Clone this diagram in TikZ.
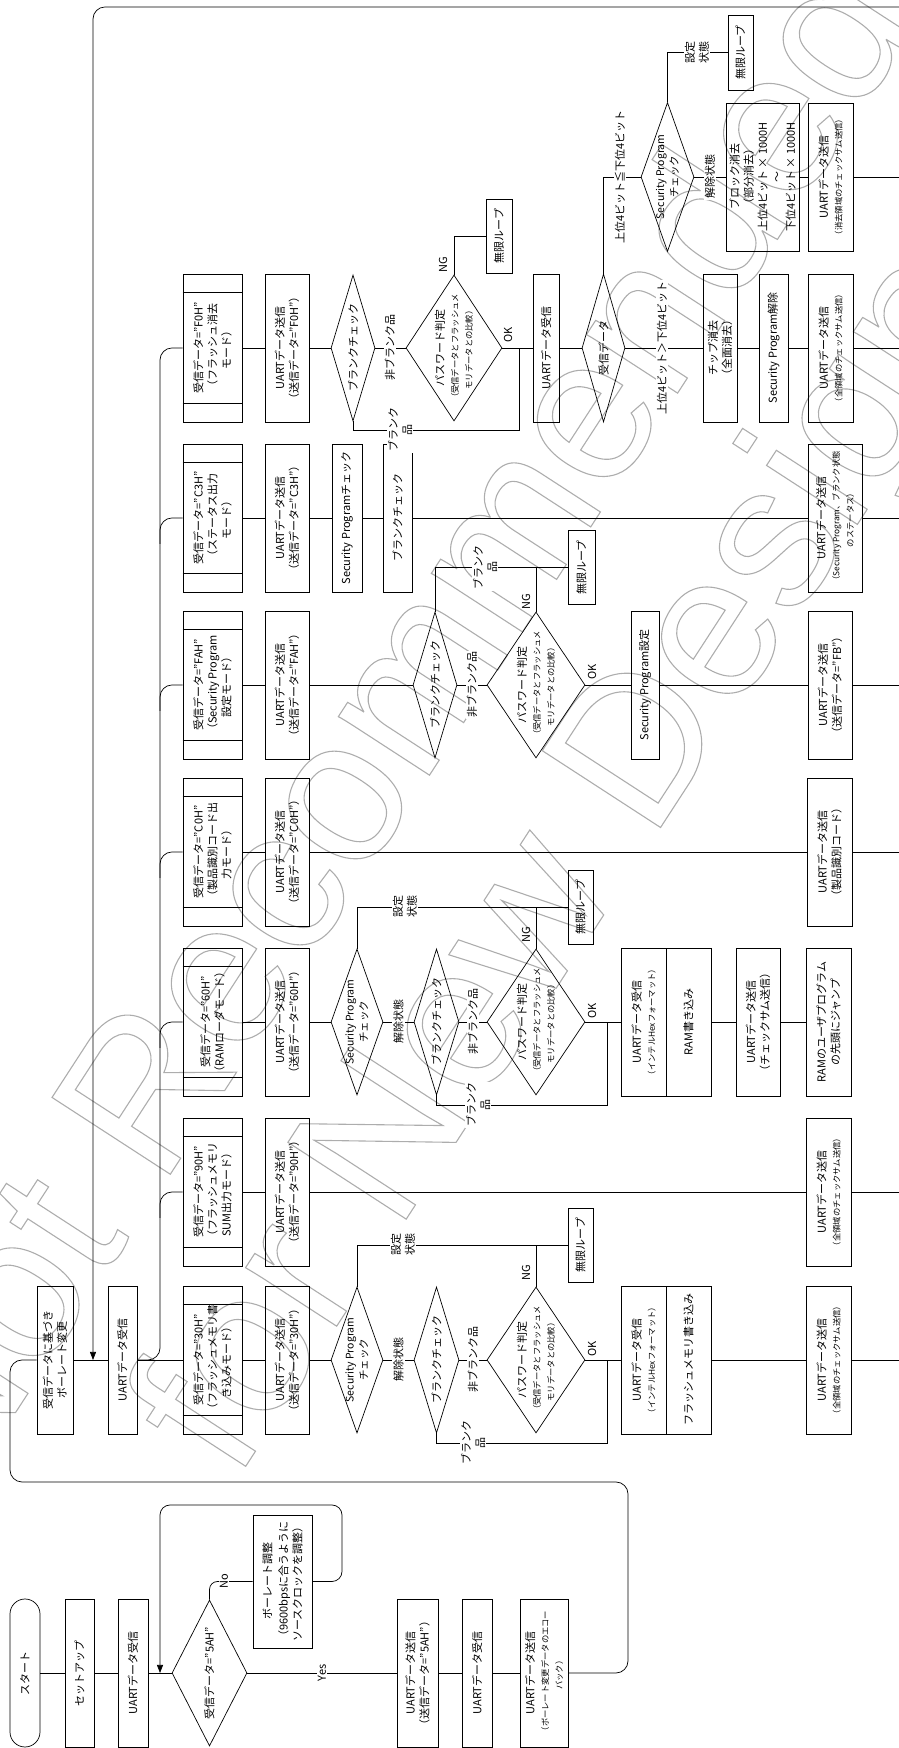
\documentclass[tikz,border=0pt]{standalone}
\usepackage{fontspec}
\setmainfont{Noto Sans CJK JP}
\newfontfamily\wmfont{Liberation Sans}
\usetikzlibrary{shapes.geometric,arrows.meta,calc}
\newcommand\fA{\fontsize{11}{14}\selectfont}
\newcommand\fB{\fontsize{8.3}{11}\selectfont}
\newcommand\fC{\fontsize{10.5}{13}\selectfont}
\newcommand\outlinetext[1]{\special{pdf:literal direct 1 Tr 1.1 w}#1\special{pdf:literal direct 0 Tr}}
\newcommand\innerlines[1]{%
  \draw ($(#1.north west)!18.5pt!(#1.north east)$) -- ($(#1.south west)!18.5pt!(#1.south east)$);
  \draw ($(#1.north east)!18.5pt!(#1.north west)$) -- ($(#1.south east)!18.5pt!(#1.south west)$);}
\tikzset{
  every node/.style={font=\fA},
  box/.style={draw, minimum width=148pt, align=center, inner sep=0pt},
  mode/.style={box, minimum height=59pt},
  snd/.style={box, minimum height=44pt},
  inf/.style={box, minimum width=74pt, minimum height=25pt},
  dia/.style={draw, diamond, inner sep=0pt, minimum width=146pt},
  dtxt/.style={align=center, inner sep=0pt},
  lbl/.style={fill=white, inner sep=1.2pt, align=center},
  tip/.style={-{Triangle[width=6pt,length=8pt]}},
  wm/.style={rotate=57, inner sep=0pt, text=black!32, font=\wmfont\fontsize{205}{205}\selectfont},
}
\begin{document}
\begin{tikzpicture}[x=1pt,y=1pt,line width=0.7pt]
\useasboundingbox (0,0) rectangle (899,1748);
% ---------------- watermark (outlined letters) ----------------
\node[wm] (wmA) at (376,1025) {\outlinetext{Not Recommended}};
\node[wm] (wmB) at (573,883) {\outlinetext{for New Design}};
\begin{scope}[rotate=90, transform shape]
% ---------------- column 0 : start ----------------
\node[box, rounded corners=15pt, minimum height=30pt] (start) at (75,-25) {スタート};
\node[box, minimum height=29pt] (setup) at (75,-79.5) {セットアップ};
\node[box, minimum height=30pt] (rx1) at (75,-133) {UARTデータ受信};
\node[dia, minimum height=75pt] (d5a) at (75,-209.5) {};
\node[dtxt] (d5at) at (d5a) {受信データ=”5AH”};
\node[box, minimum width=133pt, minimum height=59pt] (baud) at (166.5,-282.5) {ボーレート調整\\[2pt]（9600bpsに合うように\\ソースクロックを調整）};
\node[box, minimum height=41pt] (tx5a) at (75,-417.5) {UARTデータ送信\\（送信データ=”5AH”）};
\node[box, minimum height=30pt] (rx2) at (75,-477) {UARTデータ受信};
\node[box, minimum height=48pt] (echo) at (75,-544) {UARTデータ送信\\\fB（ボーレート変更データのエコー\\\fB バック）};
\node[box, minimum height=36pt] (bdc) at (388,-55) {受信データに基づき\\ボーレート変更};
\node[box, minimum height=29pt] (rx3) at (388,-122.5) {UARTデータ受信};
\coordinate (r5a) at (75,-160);
\coordinate (ret) at (388,-93);
\coordinate (retA) at (1741,-905);
\coordinate (bus0) at (388,-138);
% ---------------- column 30H ----------------
\node[mode] (m1) at (388,-212.5) {受信データ=”30H”\\（フラッシュメモリ書\\き込みモード）};
\node[snd] (s1) at (388,-287) {UARTデータ送信\\（送信データ=”30H”）};
\node[dia, minimum height=52pt] (sp1) at (388,-357) {};
\node[dtxt] (sp1t) at (sp1) {\fC Security Program\\\fC チェック};
\node[dia, minimum height=45pt] (bc1) at (388,-436.5) {};
\node[dtxt] (bc1t) at (bc1) {ブランクチェック};
\node[dia, minimum height=98pt] (pw1) at (388,-536) {};
\node[dtxt] (pw1t) at (pw1) {パスワード判定\\\fB（受信データとフラッシュメ\\\fB モリデータとの比較）};
\node[inf] (inf1) at (503,-580.5) {無限ループ};
\node[box, minimum height=45pt] (hx1a) at (388,-643.5) {UARTデータ受信\\\fB（インテルHexフォーマット）};
\node[box, minimum height=45pt] (hx1b) at (388,-688.5) {フラッシュメモリ書き込み};
\node[box, minimum height=45pt] (cs1) at (388,-828.5) {UARTデータ送信\\\fB（全領域のチェックサム送信）};
\coordinate (e1) at (388,-905);
\coordinate (j1) at (388,-607);
% ---------------- column 90H ----------------
\node[mode] (m2) at (556,-212.5) {受信データ=”90H”\\（フラッシュメモリ\\SUM出力モード）};
\node[snd] (s2) at (556,-287) {UARTデータ送信\\（送信データ=”90H”）};
\node[box, minimum height=45pt] (cs2) at (556,-828.5) {UARTデータ送信\\\fB（全領域のチェックサム送信）};
\coordinate (e2) at (556,-905);
% ---------------- column 60H ----------------
\node[mode] (m3) at (726,-212.5) {受信データ=”60H”\\（RAMローダモード）};
\node[snd] (s3) at (726,-287) {UARTデータ送信\\（送信データ=”60H”）};
\node[dia, minimum height=52pt] (sp3) at (726,-357) {};
\node[dtxt] (sp3t) at (sp3) {\fC Security Program\\\fC チェック};
\node[dia, minimum height=45pt] (bc3) at (726,-436.5) {};
\node[dtxt] (bc3t) at (bc3) {ブランクチェック};
\node[dia, minimum height=98pt] (pw3) at (726,-536) {};
\node[dtxt] (pw3t) at (pw3) {パスワード判定\\\fB（受信データとフラッシュメ\\\fB モリデータとの比較）};
\node[inf] (inf3) at (841,-580.5) {無限ループ};
\node[box, minimum height=45pt] (hx3a) at (726,-643.5) {UARTデータ受信\\\fB（インテルHexフォーマット）};
\node[box, minimum height=45pt] (hx3b) at (726,-688.5) {RAM書き込み};
\node[box, minimum height=44pt] (cs3) at (726,-758) {UARTデータ送信\\（チェックサム送信）};
\node[box, minimum height=45pt] (jmp3) at (726,-828.5) {RAMのユーザプログラム\\の先頭にジャンプ};
\coordinate (j3) at (726,-607);
% ---------------- column C0H ----------------
\node[mode] (m4) at (896,-212.5) {受信データ=”C0H”\\（製品識別コード出\\力モード）};
\node[snd] (s4) at (896,-287) {UARTデータ送信\\（送信データ=”C0H”）};
\node[box, minimum height=45pt] (id4) at (896,-829.5) {UARTデータ送信\\（製品識別コード）};
\coordinate (e4) at (896,-905);
% ---------------- column FAH ----------------
\node[mode] (m5) at (1063,-212.5) {受信データ=”FAH”\\（Security Program\\設定モード）};
\node[snd] (s5) at (1063,-287) {UARTデータ送信\\（送信データ=”FAH”）};
\node[dia, minimum height=44pt] (bc5) at (1063,-435) {};
\node[dtxt] (bc5t) at (bc5) {ブランクチェック};
\node[dia, minimum height=98pt] (pw5) at (1063,-536) {};
\node[dtxt] (pw5t) at (pw5) {パスワード判定\\\fB（受信データとフラッシュメ\\\fB モリデータとの比較）};
\node[inf, minimum height=27pt] (inf5) at (1180.5,-581.5) {無限ループ};
\node[box, minimum height=28pt] (set5) at (1063,-645) {Security Program設定};
\node[snd] (fb5) at (1063,-830) {UARTデータ送信\\（送信データ=”FB”）};
\coordinate (e5) at (1063,-905);
% ---------------- column C3H ----------------
\node[mode] (m6) at (1230,-212.5) {受信データ=”C3H”\\（ステータス出力\\モード）};
\node[snd] (s6) at (1230,-287) {UARTデータ送信\\（送信データ=”C3H”）};
\node[box, minimum height=30pt] (spc6) at (1230,-347) {Security Programチェック};
\node[box, minimum height=29pt] (bcb6) at (1230,-397.5) {ブランクチェック};
\node[box, minimum height=54pt] (st6) at (1230,-835) {UARTデータ送信\\\fB（Security Program、ブランク状態\\\fB のステータス）};
\coordinate (e6) at (1230,-905);
% ---------------- column F0H ----------------
\node[mode] (m7) at (1400,-212.5) {受信データ=”F0H”\\（フラッシュ消去\\モード）};
\node[snd] (s7) at (1400,-287) {UARTデータ送信\\（送信データ=”F0H”）};
\node[dia, minimum height=44pt] (bc7) at (1400,-353) {};
\node[dtxt] (bc7t) at (bc7) {ブランクチェック};
\node[dia, minimum height=96pt] (pw7) at (1400,-454) {};
\node[dtxt] (pw7t) at (pw7) {パスワード判定\\\fB（受信データとフラッシュメ\\\fB モリデータとの比較）};
\node[inf, minimum height=26pt] (inf7) at (1512,-499) {無限ループ};
\node[box, minimum height=26pt] (rx7) at (1400,-546) {UARTデータ受信};
\node[dia, minimum width=148pt, minimum height=43pt] (dd7) at (1400,-603.5) {};
\node[dtxt] (dd7t) at (dd7) {受信データ};
\node[box, minimum height=34pt] (chip7) at (1400,-720) {チップ消去\\（全面消去）};
\node[box, minimum height=29pt] (spr7) at (1400,-773.5) {Security Program解除};
\node[box, minimum height=45pt] (cs7) at (1400,-830.5) {UARTデータ送信\\\fB（全領域のチェックサム送信）};
\node[dia, minimum width=149pt, minimum height=53pt] (sp7) at (1571,-667.5) {};
\node[dtxt] (sp7t) at (sp7) {\fC Security Program\\\fC チェック};
\node[inf, minimum width=75pt] (inf7b) at (1695.5,-740.5) {無限ループ};
\node[box, minimum height=73pt] (blk7) at (1571,-762.5) {ブロック消去\\（部分消去）\\上位4ビット × 1000H\\〜\\下位4ビット × 1000H};
\node[box, minimum height=45pt] (cs7b) at (1571,-830.5) {UARTデータ送信\\\fB（消去領域のチェックサム送信）};
\coordinate (e7) at (1400,-905);
\coordinate (e7b) at (1571,-905);
\coordinate (j7) at (1400,-519);
% inner lines of the mode boxes
\innerlines{m1}\innerlines{m2}\innerlines{m3}\innerlines{m4}\innerlines{m5}\innerlines{m6}\innerlines{m7}
% ---------------- connectors ----------------
\draw (start) -- (setup); \draw (setup) -- (rx1); \draw (rx1) -- (d5a);
\draw[rounded corners=8pt] (d5a.east) -| (baud.north);
\draw[rounded corners=10pt, tip] (baud.south) -- (166.5,-342) -- (243,-342) -- (243,-160) -- (r5a);
\draw (d5a.south) -- (tx5a);
\draw (tx5a) -- (rx2); \draw (rx2) -- (echo);
\draw[rounded corners=12pt] (echo.south) -- (75,-628) -- (266,-628) -- (266,-10) -- (388,-10) -- (bdc.north);
\draw (bdc) -- (rx3);
\draw[rounded corners=12pt, tip] (retA) |- (ret);
\draw (rx3) -- (m1);
\draw[rounded corners=12pt] (bus0) |- (1400,-160) -- (m7.north);
\foreach \m/\c in {m2/556, m3/726, m4/896, m5/1063, m6/1230}
  \draw[rounded corners=12pt] ({\c-26},-160) -| (\m.north);
% 30H
\draw (m1) -- (s1); \draw (s1) -- (sp1); \draw (sp1) -- (bc1); \draw (bc1) -- (pw1);
\draw (pw1) -- (hx1a); \draw (hx1b) -- (cs1); \draw (cs1) -- (e1);
\draw (sp1.east) -| (inf1.north); \draw (pw1.east) -- (pw1.east -| inf1.north);
\draw (bc1.west) -- ++(-10,0) |- (j1);
% 90H
\draw (m2) -- (s2); \draw (s2) -- (cs2); \draw (cs2) -- (e2);
% 60H
\draw (m3) -- (s3); \draw (s3) -- (sp3); \draw (sp3) -- (bc3); \draw (bc3) -- (pw3);
\draw (pw3) -- (hx3a); \draw (hx3b) -- (cs3); \draw (cs3) -- (jmp3);
\draw (sp3.east) -| (inf3.north); \draw (pw3.east) -- (pw3.east -| inf3.north);
\draw (bc3.west) -- ++(-10,0) |- (j3);
% C0H
\draw (m4) -- (s4); \draw (s4) -- (id4); \draw (id4) -- (e4);
% FAH
\draw (m5) -- (s5); \draw (s5) -- (bc5); \draw (bc5) -- (pw5); \draw (pw5) -- (set5);
\draw (set5) -- (fb5); \draw (fb5) -- (e5);
\draw (bc5.east) -| (inf5.north); \draw (pw5.east) -- (pw5.east -| inf5.north);
% C3H
\draw (m6) -- (s6); \draw (s6) -- (spc6); \draw (spc6) -- (bcb6); \draw (bcb6) -- (st6); \draw (st6) -- (e6);
% F0H
\draw (m7) -- (s7); \draw (s7) -- (bc7); \draw (bc7) -- (pw7); \draw (pw7) -- (rx7);
\draw (rx7) -- (dd7); \draw (dd7) -- (chip7); \draw (chip7) -- (spr7); \draw (spr7) -- (cs7); \draw (cs7) -- (e7);
\draw (pw7.east) -| (inf7.north);
\draw (bc7.west) -- ++(-9,0) |- (j7);
\draw (dd7.east) -| (sp7.north);
\draw (sp7) -- (blk7); \draw (blk7) -- (cs7b); \draw (cs7b) -- (e7b);
\draw (sp7.east) -| (inf7b.north);
% ---------------- labels ----------------
\node[lbl] (nolbl) at (166.5,-224) {No};
\node[lbl] (yeslbl) at (75,-322) {Yes};
% 30H
\node[lbl] (l1a) at (388,-398.5) {解除状態};
\node[lbl] (l1b) at (388,-473) {非ブランク品};
\node[lbl] (l1c) at (503,-403) {設定\\状態};
\node[lbl] (l1d) at (305,-473) {ブランク\\品};
\node (ok1) at (399,-592) {OK};
\node (ng1) at (475,-526) {NG};
% 60H
\node[lbl] (l3a) at (726,-398.5) {解除状態};
\node[lbl] (l3b) at (726,-473) {非ブランク品};
\node[lbl] (l3c) at (841,-405) {設定\\状態};
\node[lbl] (l3d) at (643,-478) {ブランク\\品};
\node (ok3) at (737,-592) {OK};
\node (ng3) at (813,-526) {NG};
% FAH
\node[lbl] (l5b) at (1063,-472) {非ブランク品};
\node[lbl] (l5d) at (1180.5,-485) {ブランク\\品};
\node (ok5) at (1076,-592) {OK};
\node (ng5) at (1146,-526) {NG};
% F0H
\node[lbl] (l7b) at (1400,-390) {非ブランク品};
\node[lbl] (l7d) at (1318,-400) {ブランク\\品};
\node (ok7) at (1413,-508) {OK};
\node (ng7) at (1483,-443) {NG};
\node[lbl] (l7e) at (1400,-662) {上位4ビット＞下位4ビット};
\node[lbl] (l7f) at (1571,-620) {上位4ビット≦下位4ビット};
\node[lbl] (l7g) at (1571,-710) {解除状態};
\node[lbl] (l7h) at (1695.5,-697) {設定\\状態};
\end{scope}
\end{tikzpicture}
\end{document}
